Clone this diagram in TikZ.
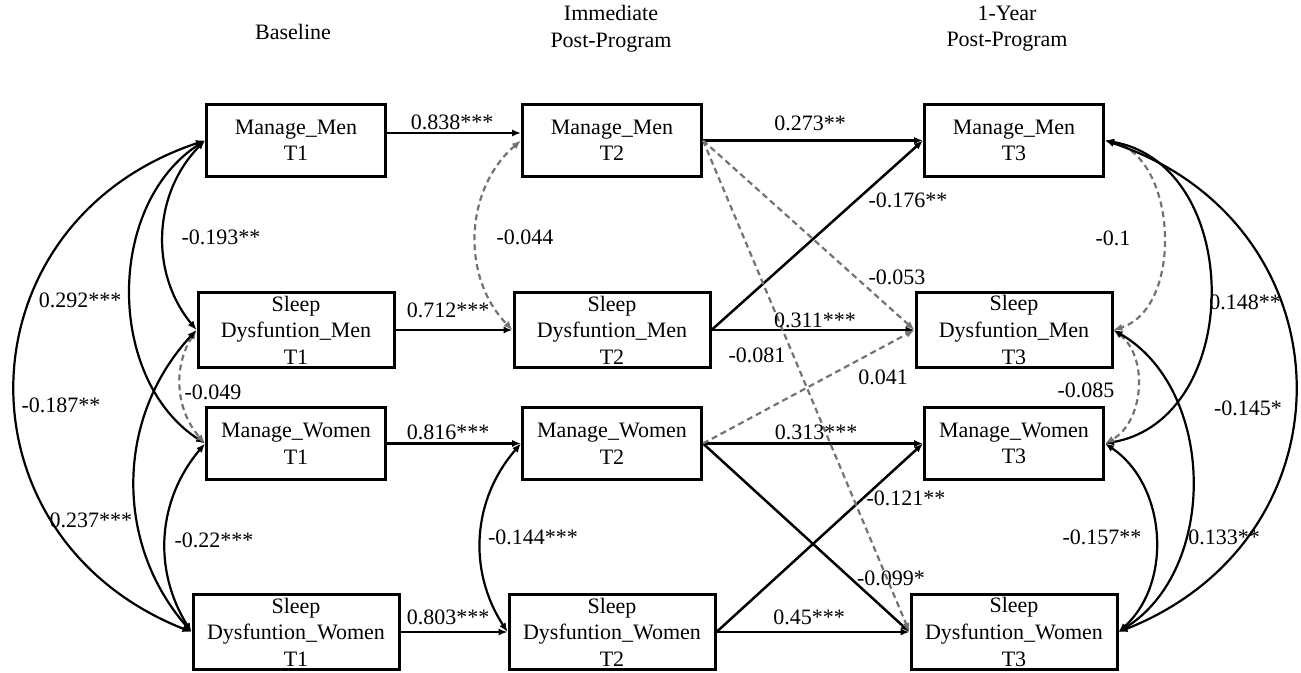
\documentclass[tikz,border=0pt]{standalone}
\usepackage{fontspec}
\setmainfont{Liberation Serif}
\usetikzlibrary{arrows.meta,positioning}

\begin{document}
\begin{tikzpicture}[x=0.5pt, y=-0.5pt,
    font=\fontsize{11pt}{13.3pt}\selectfont,
    var/.style={draw, line width=1.5pt, align=center, inner sep=1pt},
    manage/.style={var, minimum width=89.5pt, minimum height=36pt},
    sleepmen/.style={var, minimum width=98pt, minimum height=37.5pt},
    sleepwom/.style={var, minimum width=103pt, minimum height=37.5pt},
    reg/.style={-{Latex[length=4.5pt,width=3.6pt]}, line width=1.25pt},
    nsreg/.style={reg, black!55, dash pattern=on 3pt off 2pt, line width=1.1pt},
    cov/.style={{Latex[length=4.5pt,width=3.6pt]}-{Latex[length=4.5pt,width=3.6pt]}, line width=1.1pt},
    nscov/.style={cov, black!55, dash pattern=on 3pt off 2pt}]
    \useasboundingbox (0,0) rectangle (1301,673);

    % time points
    \node (base) at (293,32) {Baseline};
    \node (post) [align=center] at (611,28.5) {Immediate\\Post-Program};
    \node (year) [align=center] at (1007,28.5) {1-Year\\Post-Program};

    % T1
    \node (mm1) [manage] at (296,140.5) {Manage\_Men\\T1};
    \node (sm1) [sleepmen, below=56.5pt of mm1] {Sleep\\Dysfuntion\_Men\\T1};
    \node (mw1) [manage, below=18.5pt of sm1] {Manage\_Women\\T1};
    \node (sw1) [sleepwom, below=56pt of mw1] {Sleep\\Dysfuntion\_Women\\T1};

    % T2
    \node (mm2) [manage, right=67pt of mm1] {Manage\_Men\\T2};
    \node (sm2) [sleepmen, below=56.5pt of mm2] {Sleep\\Dysfuntion\_Men\\T2};
    \node (mw2) [manage, below=18.5pt of sm2] {Manage\_Women\\T2};
    \node (sw2) [sleepwom, below=56pt of mw2] {Sleep\\Dysfuntion\_Women\\T2};

    % T3
    \node (mm3) [manage, right=110pt of mm2] {Manage\_Men\\T3};
    \node (sm3) [sleepmen, below=56.5pt of mm3] {Sleep\\Dysfuntion\_Men\\T3};
    \node (mw3) [manage, below=18.5pt of sm3] {Manage\_Women\\T3};
    \node (sw3) [sleepwom, below=56pt of mw3] {Sleep\\Dysfuntion\_Women\\T3};

    % stability paths
    \draw [reg] ([yshift=3.75pt]mm1.east) -- ([yshift=3.75pt]mm2.west);
    \draw [reg] (sm1) -- (sm2);
    \draw [reg] (mw1) -- (mw2);
    \draw [reg] (sw1) -- (sw2);
    \draw [reg] (mm2) -- (mm3);
    \draw [reg] (sm2) -- (sm3);
    \draw [reg] (mw2) -- (mw3);
    \draw [reg] (sw2) -- (sw3);

    % cross-lagged paths
    \draw [reg] (sm2.east) -- (mm3.west);
    \draw [reg] (sw2.east) -- (mw3.west);
    \draw [reg] (mw2.east) -- (sw3.west);
    \draw [nsreg] (mm2.east) -- (sm3.west);
    \draw [nsreg] (mm2.east) -- (sw3.west);
    \draw [nsreg] (mw2.east) -- (sm3.west);

    % covariances T1
    \draw [cov] (mm1.west) to[bend right=42] (sm1.west);
    \draw [cov] (mm1.west) to[bend right=57] (mw1.west);
    \draw [cov] (mm1.west) to[bend right=70, looseness=1.35] (sw1.west);
    \draw [nscov] (sm1.west) to[bend right=37] (mw1.west);
    \draw [cov] (sm1.west) to[bend right=42] (sw1.west);
    \draw [cov] (mw1.west) to[bend right=36] (sw1.west);

    % covariances T2
    \draw [nscov] (mm2.west) to[bend right=47] (sm2.west);
    \draw [cov] (mw2.west) to[bend right=37] (sw2.west);

    % covariances T3
    \draw [nscov] (mm3.east) to[bend left=75] (sm3.east);
    \draw [cov] (mm3.east) to[bend left=80, looseness=1.2] (mw3.east);
    \draw [cov] (mm3.east) to[bend left=70, looseness=1.35] (sw3.east);
    \draw [nscov] (sm3.east) to[bend left=57] (mw3.east);
    \draw [cov] (sm3.east) to[bend left=59] (sw3.east);
    \draw [cov] (mw3.east) to[bend left=52] (sw3.east);

    % estimates
    \node (e1) at (452,122) {0.838***};
    \node (e2) at (448,310) {0.712***};
    \node (e3) at (448,432) {0.816***};
    \node (e4) at (448,617) {0.803***};
    \node (e5) at (810,123) {0.273**};
    \node (e6) at (815,320) {0.311***};
    \node (e7) at (816,432) {0.313***};
    \node (e8) at (809,617) {0.45***};
    \node (e9) at (908,200) {-0.176**};
    \node (e10) at (897,277) {-0.053};
    \node (e11) at (757,355) {-0.081};
    \node (e12) at (883,377) {0.041};
    \node (e13) at (906,498) {-0.121**};
    \node (e14) at (891,578) {-0.099*};
    \node (e15) at (221,237) {-0.193**};
    \node (e16) at (80,300) {0.292***};
    \node (e17) at (61,405) {-0.187**};
    \node (e18) at (213,392) {-0.049};
    \node (e19) at (91,520) {0.237***};
    \node (e20) at (214,540) {-0.22***};
    \node (e21) at (525,237) {-0.044};
    \node (e22) at (533,537) {-0.144***};
    \node (e23) at (1113,238) {-0.1};
    \node (e24) at (1245,302) {0.148**};
    \node (e25) at (1248,408) {-0.145*};
    \node (e26) at (1086,390) {-0.085};
    \node (e27) at (1224,537) {0.133**};
    \node (e28) at (1102,537) {-0.157**};
\end{tikzpicture}
\end{document}
